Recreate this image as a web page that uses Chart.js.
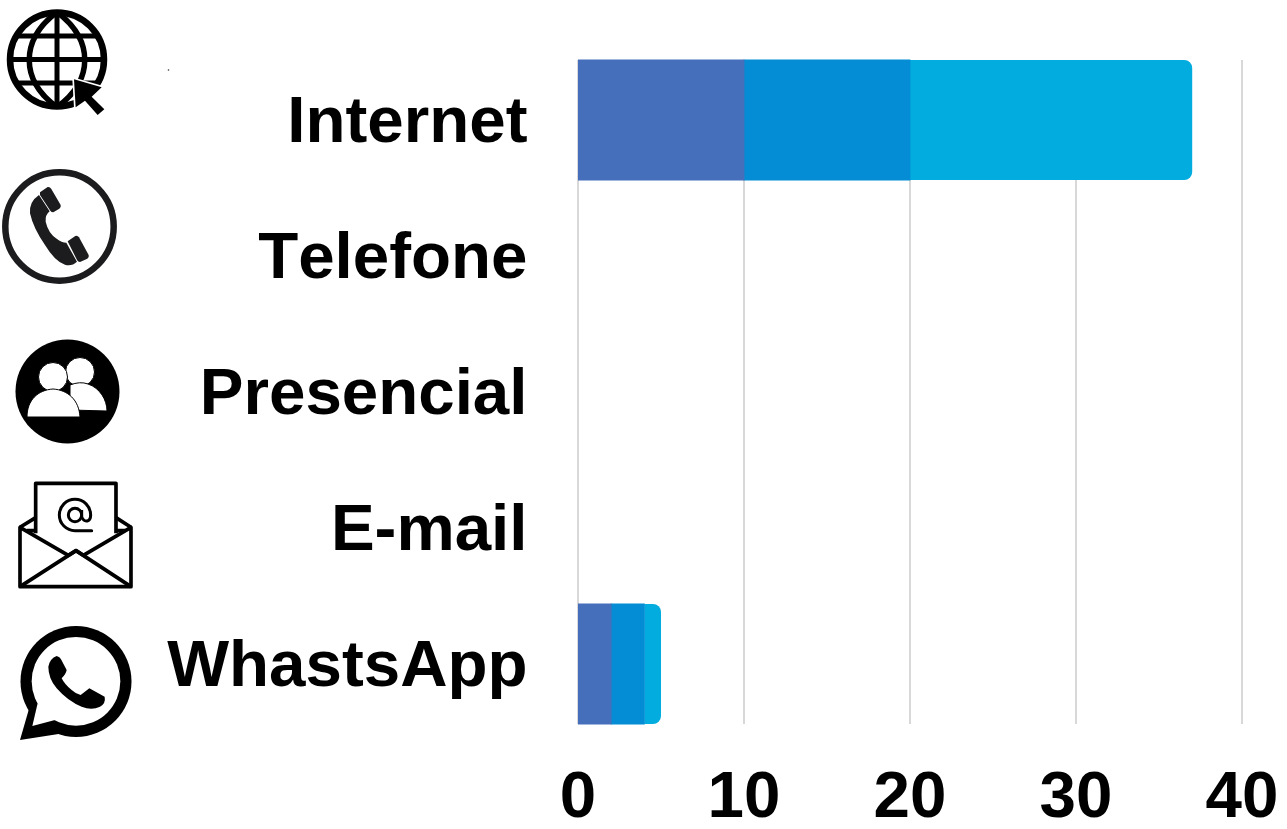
<!DOCTYPE html>
<html>
<head>
<meta charset="utf-8">
<title>Canais</title>
<script src="https://cdn.jsdelivr.net/npm/chart.js@4"></script>
<style>
  html, body { margin: 0; padding: 0; background: #fff; overflow: hidden; }
  #wrap { position: relative; width: 1287px; height: 829px; }
  #icons { position: absolute; left: 0; top: 0; }
</style>
</head>
<body>
<div id="wrap">
  <canvas id="chart" width="1287" height="829"></canvas>
  <!-- Icons sit in zoomed-crop coordinates, hence the scale(1/3) groups -->
  <svg id="icons" width="200" height="760" viewBox="0 0 200 760">
    <defs><clipPath id="globeClip"><circle cx="57" cy="59.5" r="47"/></clipPath></defs>
    <!-- globe -->
    <g fill="none" stroke="#000" stroke-width="6.5">
      <circle cx="57" cy="59.5" r="47"/>
      <g clip-path="url(#globeClip)">
        <path d="M57 12C20 40 20 80 57 107C94 80 94 40 57 12Z" stroke-width="5.5"/>
        <path d="M57 10V108M8 59.5H106M8 36H106M8 83H106" stroke-width="5"/>
      </g>
    </g>
    <g transform="scale(0.3333)">
      <path d="M222 238L305 262L275 290L313 328L293 345L255 302L227 322Z" fill="#000" stroke="#fff" stroke-width="10" paint-order="stroke" stroke-linejoin="miter"/>
    </g>
    <!-- telephone -->
    <circle cx="59.5" cy="226.5" r="54.2" fill="none" stroke="#1c1c1e" stroke-width="6.5"/>
    <g transform="scale(0.3333)" fill="#1c1c1e">
      <path d="M120 577L143 561Q150 560 154 567L182 615Q184 622 178 626L160 637Q154 637 151 632L120 585Z"/>
      <path d="M203 724L226 708Q233 706 237 712L266 765Q268 772 262 776L240 786Q234 786 231 780Z"/>
      <path d="M117 585L149 634Q135 645 137 665Q145 700 170 716Q185 728 199 728L231 785Q215 800 195 794Q165 785 135 735Q100 685 90 640Q87 605 117 585Z"/>
    </g>
    <!-- people -->
    <circle cx="67.5" cy="391.5" r="52" fill="#000"/>
    <g fill="#fff" stroke="#000" stroke-width="1">
      <circle cx="80" cy="372" r="14.5"/>
      <path d="M70 410V385Q80 381 88 384C100 388 107 400 107 411Z"/>
      <circle cx="53" cy="377" r="14.5"/>
      <path d="M27 417C27 400 38 390 53 389C68 390 79 400 80 417Z"/>
    </g>
    <!-- e-mail -->
    <g transform="translate(0,320) scale(0.3333)" fill="none" stroke="#000" stroke-width="11" stroke-linejoin="round">
      <path d="M107 640V490H348V640"/>
      <path d="M60 622L107 593M393 622L348 593M80 632H107M348 632H375"/>
      <path d="M60 622V800H393V622L250 706L228 692L205 706Z"/>
      <path d="M60 800L228 692L393 800"/>
      <path d="M272 585A47 47 0 1 0 225 632H275" stroke-width="9" stroke-linecap="round"/>
      <circle cx="225" cy="585" r="20" stroke-width="9"/>
      <path d="M245 570V590Q250 605 262 603Q272 600 272 585" stroke-width="9"/>
    </g>
    <!-- whatsapp -->
    <path d="M20 740L33 695L65 733Z" fill="#000"/>
    <circle cx="76" cy="681.5" r="55.5" fill="#000"/>
    <g transform="translate(0,320) scale(0.3333)">
      <path d="M113 1150L97 1218L165 1200Z" fill="#fff"/>
      <circle cx="228" cy="1084" r="133" fill="#fff"/>
      <path d="M145 1040Q150 1015 170 1008Q180 1010 183 1018L200 1050Q198 1062 185 1075Q195 1095 215 1110Q228 1122 242 1125L268 1105L314 1130Q318 1150 300 1160Q275 1172 245 1160Q205 1145 170 1105Q145 1075 145 1040Z" fill="#000"/>
    </g>
    <circle cx="168.5" cy="70" r="0.8" fill="#333"/>
  </svg>
</div>
<script>
// Values (null = no bar drawn for that channel)
const categories = ['Internet', 'Telefone', 'Presencial', 'E-mail', 'WhastsApp'];
const serie1 = [10, null, null, null, 2];
const serie2 = [10, null, null, null, 2];
const serie3 = [17, null, null, null, 1];
const xTicks = [0, 10, 20, 30, 40];

const fontBold = { family: "'Liberation Sans', Arial, sans-serif", size: 65.5, weight: 'bold' };

// Gridlines stop 8px short of the category bands, top and bottom
const shortGrid = {
  id: 'shortGrid',
  beforeDraw(chart) {
    // has to be set here, resizing the canvas resets the context state
    chart.ctx.fontKerning = 'none'; // original labels are unkerned ("Te")
  },
  beforeDatasetsDraw(chart) {
    const { ctx, scales: { x }, chartArea } = chart;
    ctx.save();
    ctx.strokeStyle = '#cbcbcb';
    ctx.lineWidth = 1.5;
    xTicks.forEach(t => {
      const px = x.getPixelForValue(t);
      ctx.beginPath();
      ctx.moveTo(px, chartArea.top + 8);
      ctx.lineTo(px, chartArea.bottom - 8);
      ctx.stroke();
    });
    ctx.restore();
  }
};

const ctx = document.getElementById('chart');
new Chart(ctx, {
  type: 'bar',
  data: {
    labels: categories,
    datasets: [
      { label: 'Série 1', data: serie1, backgroundColor: '#466fbb', inflateAmount: 0.4 },
      { label: 'Série 2', data: serie2, backgroundColor: '#048dd5', inflateAmount: 0.4 },
      {
        label: 'Série 3', data: serie3, backgroundColor: '#02acdf',
        borderSkipped: false,
        borderRadius: { topLeft: 0, bottomLeft: 0, topRight: 8, bottomRight: 8 }
      }
    ]
  },
  options: {
    indexAxis: 'y',
    responsive: false,
    animation: false,
    layout: { padding: { top: 52, right: 45, left: 0, bottom: 0 } },
    datasets: { bar: { categoryPercentage: 1, barPercentage: 0.8824 } },
    plugins: { legend: { display: false }, tooltip: { enabled: false } },
    scales: {
      x: {
        stacked: true,
        min: 0,
        max: 40,
        afterFit: s => { s.height = 97; s.paddingLeft = 0; s.paddingRight = 0; },
        afterBuildTicks: s => { s.ticks = xTicks.map(v => ({ value: v })); },
        grid: { display: false },
        border: { display: false },
        ticks: { color: '#000', font: fontBold, padding: 20, maxRotation: 0 }
      },
      y: {
        stacked: true,
        afterFit: s => { s.width = 578; s.paddingTop = 0; s.paddingBottom = 0; },
        grid: { display: false, drawTicks: false },
        border: { display: false },
        ticks: { color: '#000', font: fontBold, padding: 50.5, labelOffset: 4 }
      }
    }
  },
  plugins: [shortGrid]
});
</script>
</body>
</html>
